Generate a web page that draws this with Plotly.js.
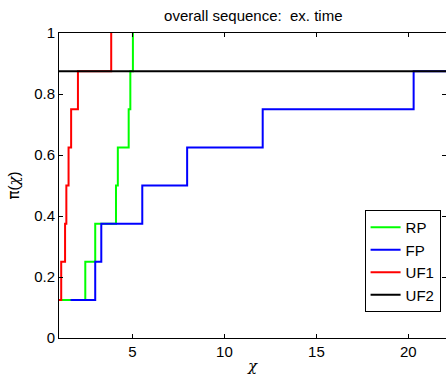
<!DOCTYPE html>
<html>
<head>
<meta charset="utf-8">
<script src="https://cdn.plot.ly/plotly-3.0.1.min.js"></script>
<style>html,body{margin:0;padding:0;background:#fff;}#chart{width:446px;height:379px;}</style>
</head>
<body>
<div id="chart"></div>
<script>
// Performance profile data (ratio chi, fraction pi)
const seriesNames = ["RP", "FP", "UF1", "UF2"];
const seriesColors = ["#00ff00", "#0000ff", "#ff0000", "#000000"];

const rpX = [1.0, 2.43, 2.97, 4.10, 4.20, 4.79, 4.88, 5.02];
const rpY = [0.125, 0.25, 0.375, 0.5, 0.625, 0.75, 0.875, 1.0];

const fpX = [1.63, 2.97, 3.30, 5.53, 7.97, 12.08, 20.29, 22.1];
const fpY = [0.125, 0.25, 0.375, 0.5, 0.625, 0.75, 0.875, 0.875];

const uf1X = [1.0, 1.12, 1.33, 1.40, 1.52, 1.66, 2.03, 3.84];
const uf1Y = [0.125, 0.25, 0.375, 0.5, 0.625, 0.75, 0.875, 1.0];

const uf2X = [1.0, 22.1];
const uf2Y = [0.875, 0.875];

const xTicks = [5, 10, 15, 20];
const yTicks = [0, 0.2, 0.4, 0.6, 0.8, 1];
const yTickText = ["0", "0.2", "0.4", "0.6", "0.8", "1"];

const xs = [rpX, fpX, uf1X, uf2X];
const ys = [rpY, fpY, uf1Y, uf2Y];

const FONT = "Liberation Sans, Arial, Helvetica, sans-serif";
const GREEK = 'font-family:DejaVu Serif;font-style:italic';

const traces = seriesNames.map((n, i) => ({
  x: xs[i], y: ys[i], name: n, type: "scatter", mode: "lines",
  line: {color: seriesColors[i], width: 2, shape: "hv"},
  cliponaxis: true
}));

const axisCommon = {
  showline: true, linecolor: "#000", linewidth: 1, mirror: "ticks",
  ticks: "inside", ticklen: 4, tickcolor: "#000", tickwidth: 1,
  showgrid: false, zeroline: false,
  tickfont: {family: FONT, size: 15, color: "#000"}
};

const layout = {
  width: 446, height: 379,
  margin: {l: 59, r: 0, t: 33, b: 41},
  paper_bgcolor: "#fff", plot_bgcolor: "#fff",
  showlegend: true,
  title: {text: "overall sequence:  ex. time", font: {family: FONT, size: 15, color: "#000"},
          x: 0.568, xanchor: "center", y: 0.958, yanchor: "middle"},
  xaxis: Object.assign({}, axisCommon, {
    range: [1, 22.05], tickvals: xTicks, ticktext: xTicks.map(String),
    title: {text: '<span style="' + GREEK + '">χ</span>', font: {family: FONT, size: 15, color: "#000"}, standoff: 1}
  }),
  yaxis: Object.assign({}, axisCommon, {
    range: [0, 1], tickvals: yTicks, ticktext: yTickText,
    title: {text: '<span style="font-family:DejaVu Sans">π</span>(<span style="' + GREEK + '">χ</span>)', font: {family: FONT, size: 15, color: "#000"}, standoff: 10}
  }),
  legend: {
    x: 0.986, xanchor: "right", y: 0.085, yanchor: "bottom",
    bordercolor: "#000", borderwidth: 1, bgcolor: "#fff",
    font: {family: FONT, size: 15, color: "#000"},
    tracegroupgap: 0, itemwidth: 30
  }
};

Plotly.newPlot("chart", traces, layout, {staticPlot: true, displayModeBar: false});
</script>
</body>
</html>
